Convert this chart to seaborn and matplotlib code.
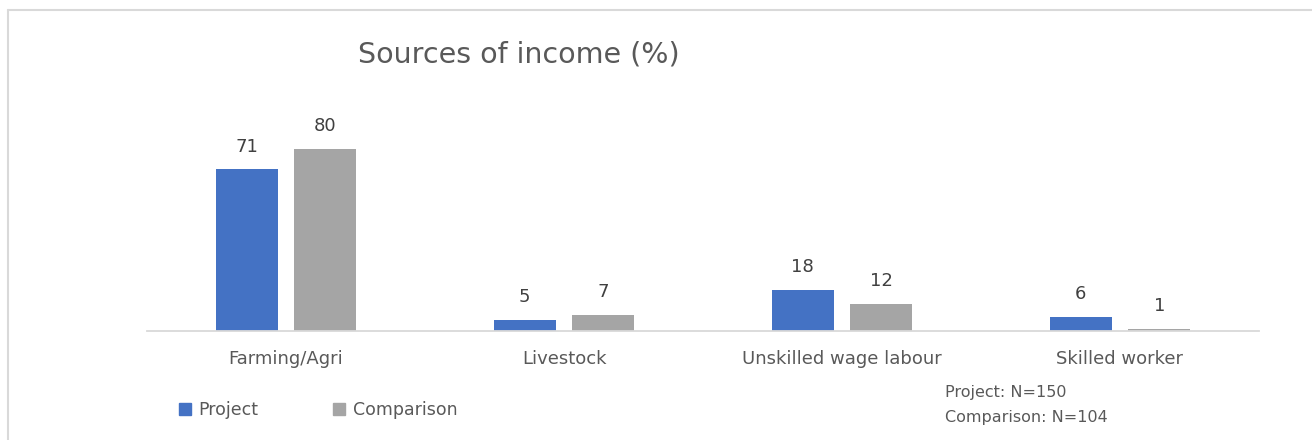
import matplotlib
matplotlib.use("Agg")
import matplotlib.pyplot as plt
from matplotlib.lines import Line2D
import seaborn as sns
import pandas as pd

categories = ["Farming/Agri", "Livestock", "Unskilled wage labour", "Skilled worker"]
project = [71, 5, 18, 6]
comparison = [80, 7, 12, 1]
series_names = ["Project", "Comparison"]
colors = ["#4472C4", "#A5A5A5"]

df = pd.DataFrame({
    "category": categories * 2,
    "value": project + comparison,
    "group": [series_names[0]] * len(categories) + [series_names[1]] * len(categories),
})

sns.set_theme(style="white")
plt.rcParams["font.family"] = ["DejaVu Sans"]
text_color = "#595959"

fig = plt.figure(figsize=(13.12, 4.4), dpi=100)
ax = fig.add_axes([147 / 1312, 109 / 440, 1112 / 1312, 227.5 / 440])

sns.barplot(data=df, x="category", y="value", hue="group", order=categories,
            hue_order=series_names, palette=colors, width=0.568, gap=0.215,
            linewidth=0, saturation=1, legend=False, ax=ax)

ax.set_ylim(0, 100)
ax.set_xlim(-0.5, len(categories) - 0.5)
ax.set_xlabel("")
ax.set_ylabel("")
ax.set_yticks([])
for side in ["top", "right", "left"]:
    ax.spines[side].set_visible(False)
ax.spines["bottom"].set_color("#D9D9D9")
ax.spines["bottom"].set_linewidth(1.3)
ax.tick_params(axis="x", length=0, pad=14, labelsize=13, labelcolor=text_color)

for container in ax.containers:
    ax.bar_label(container, labels=[f"{v:.0f}" for v in container.datavalues],
                 padding=10, fontsize=13, color="#404040")

fig.text(519 / 1312, 1 - 55 / 440, "Sources of income (%)", ha="center", va="center",
         fontsize=20.5, color=text_color)

handles = [plt.Rectangle((0, 0), 1, 1, color=c) for c in colors]
fig.legend(handles, series_names, loc="center left", bbox_to_anchor=(163 / 1312, 1 - 410 / 440),
           ncol=2, frameon=False, fontsize=12.5, labelcolor=text_color,
           handlelength=0.7, handleheight=0.7, handletextpad=0.45, columnspacing=4.3)

fig.text(945 / 1312, 1 - 392 / 440, "Project: N=150", ha="left", va="center",
         fontsize=11.5, color=text_color)
fig.text(945 / 1312, 1 - 417 / 440, "Comparison: N=104", ha="left", va="center",
         fontsize=11.5, color=text_color)

# light frame along the top and left edges
frame_color = "#D9D9D9"
fig.add_artist(Line2D([8 / 1312, 1.0], [1 - 10 / 440, 1 - 10 / 440],
                      transform=fig.transFigure, color=frame_color, linewidth=1.5))
fig.add_artist(Line2D([8 / 1312, 8 / 1312], [0.0, 1 - 10 / 440],
                      transform=fig.transFigure, color=frame_color, linewidth=1.5))

fig.savefig("out.png", dpi=100, facecolor="white")
